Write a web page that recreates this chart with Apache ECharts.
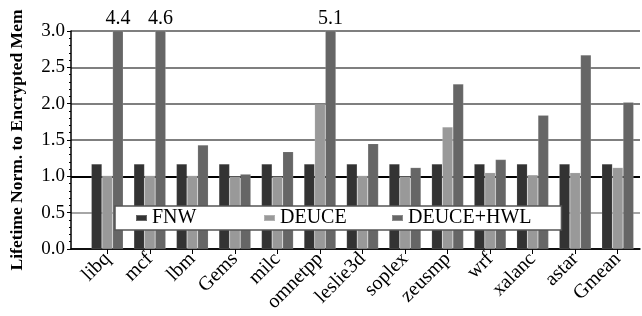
<!DOCTYPE html>
<html>
<head>
<meta charset="utf-8">
<script src="https://cdn.jsdelivr.net/npm/echarts@6/dist/echarts.min.js"></script>
<style>
    html, body { margin: 0; padding: 0; background: #fff; }
    #chart { width: 642px; height: 316px; }
</style>
</head>
<body>
<div id="chart"></div>
<script>
// benchmarks on the x axis
var benchmarks = ['libq', 'mcf', 'lbm', 'Gems', 'milc', 'omnetpp', 'leslie3d',
    'soplex', 'zeusmp', 'wrf', 'xalanc', 'astar', 'Gmean'];
var seriesNames = ['FNW', 'DEUCE', 'DEUCE+HWL'];
var fnwData = [1.17, 1.17, 1.17, 1.17, 1.17, 1.17, 1.17, 1.17, 1.17, 1.17, 1.17, 1.17, 1.17];
var deuceData = [1.01, 1.01, 1.01, 1.0, 1.0, 1.99, 1.01, 1.0, 1.68, 1.05, 1.02, 1.05, 1.12];
var hwlData = [4.4, 4.6, 1.43, 1.03, 1.34, 5.1, 1.45, 1.12, 2.27, 1.23, 1.84, 2.67, 2.02];
var yTicks = [0, 0.5, 1.0, 1.5, 2.0, 2.5, 3.0];
var barColors = ['#333333', '#999999', '#666666'];

var serif = '"Liberation Serif", "DejaVu Serif", serif';
var yMax = yTicks[yTicks.length - 1];
var legendLeft = [115, 263, 391];

var myChart = echarts.init(document.getElementById('chart'));

function makeBar(idx, data) {
    return {
        name: seriesNames[idx], type: 'bar', xAxisIndex: 1, yAxisIndex: 2,
        data: data, barGap: 0, barCategoryGap: '25%', clip: true,
        itemStyle: {color: barColors[idx], borderColor: 'rgba(255,255,255,0.25)', borderWidth: 0.5},
        label: {
            show: true, position: 'top', distance: 2,
            fontFamily: serif, fontSize: 20, color: '#000',
            formatter: function (p) { return p.value > yMax ? p.value.toFixed(1) : ''; }
        }
    };
}

// one legend per item so the entries sit at fixed spacing; the first one carries the frame
function makeLegend(i) {
    var first = (i == 0);
    return {
        left: legendLeft[i], top: first ? 206 : 208,
        data: [seriesNames[i]],
        backgroundColor: first ? '#fff' : 'transparent',
        borderColor: '#555', borderWidth: first ? 1.5 : 0,
        padding: first ? [2, 365, 2, 20] : 0,
        itemWidth: 11, itemHeight: 6, icon: 'rect',
        textStyle: {fontFamily: serif, fontSize: 20, color: '#000'}
    };
}

var option = {
    animation: false,
    backgroundColor: '#fff',
    grid: [
        {left: 63, right: 2, top: 31, bottom: 67},
        {left: 86, right: 3, top: 31, bottom: 67}
    ],
    legend: [makeLegend(0), makeLegend(1), makeLegend(2)],
    xAxis: [
        {   gridIndex: 0, type: 'value', min: 0, max: 1,
            axisLine: {show: true, lineStyle: {color: '#000', width: 1.5}},
            axisTick: {show: false}, axisLabel: {show: false}, splitLine: {show: false}
        },
        {   gridIndex: 1, type: 'category', data: benchmarks,
            axisLine: {show: false},
            axisTick: {show: true, alignWithLabel: true, length: 5, lineStyle: {color: '#000'}},
            axisLabel: {rotate: 45, interval: 0, margin: 7, fontFamily: serif, fontSize: 20, color: '#000'}
        }
    ],
    yAxis: [
        {   gridIndex: 0, type: 'value', min: 0, max: yMax, interval: 0.5,
            name: 'Lifetime Norm. to Encrypted Mem', nameLocation: 'middle', nameGap: 45,
            nameTextStyle: {fontFamily: serif, fontSize: 17.5, fontWeight: 'bold', color: '#000'},
            axisLine: {show: true, lineStyle: {color: '#000', width: 1.5}},
            axisTick: {show: true, length: 4, lineStyle: {color: '#000'}},
            minorTick: {show: true, splitNumber: 5, length: 2, lineStyle: {color: '#000'}},
            axisLabel: {fontFamily: serif, fontSize: 19, color: '#000', margin: 6,
                formatter: function (v) { return v.toFixed(1); }},
            splitLine: {show: true, lineStyle: {width: 1.5,
                color: ['#000', '#888', '#000', '#555', '#555', '#555', '#555']}}
        },
        {   gridIndex: 0, type: 'value', min: 0, max: yMax, interval: 1,
            axisLine: {show: false}, axisTick: {show: false}, axisLabel: {show: false},
            splitLine: {show: true, lineStyle: {width: 2.2,
                color: ['transparent', '#000', 'transparent', 'transparent']}}
        },
        {   gridIndex: 1, type: 'value', min: 0, max: yMax, show: false }
    ],
    series: [
        makeBar(0, fnwData),
        makeBar(1, deuceData),
        makeBar(2, hwlData)
    ]
};

myChart.setOption(option);
</script>
</body>
</html>
